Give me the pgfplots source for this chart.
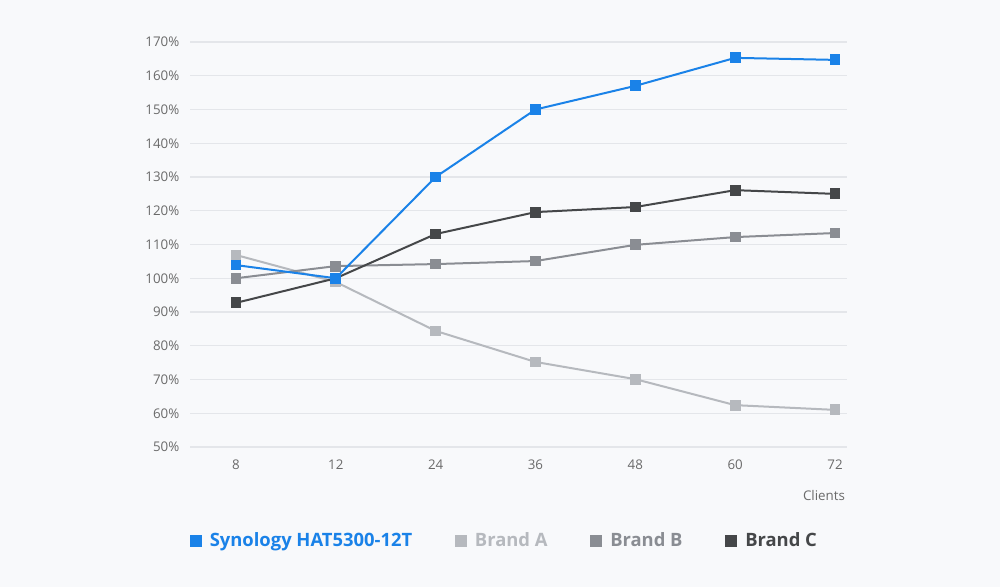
\documentclass[border=0pt]{standalone}
\usepackage{pgfplots}
\pgfplotsset{compat=1.18}
\usepackage{fontspec}
\setmainfont{Open Sans}
\definecolor{bg}{HTML}{F8F9FB}
\definecolor{gridc}{HTML}{E4E6EA}
\definecolor{tickc}{HTML}{6A6A6A}
\definecolor{cblue}{HTML}{1A82E8}
\definecolor{ca}{HTML}{B6B9BE}
\definecolor{cb}{HTML}{8A8D93}
\definecolor{cc}{HTML}{454749}
\begin{document}
\begin{tikzpicture}
\fill[bg] (0pt,0pt) rectangle (750pt,440.25pt);
\path[use as bounding box] (0pt,0pt) rectangle (750pt,440.25pt);
\begin{axis}[
  at={(142.5pt,105pt)}, anchor=south west,
  scale only axis, width=492.75pt, height=303.75pt,
  xmin=-0.46, xmax=6.12, ymin=50, ymax=170,
  axis line style={draw=none},
  major tick length=0pt,
  xtick={0,...,6}, xticklabels={8,12,24,36,48,60,72},
  ytick={50,60,...,170},
  yticklabels={50\%,60\%,70\%,80\%,90\%,100\%,110\%,120\%,130\%,140\%,150\%,160\%,170\%},
  ymajorgrids, grid style={gridc, line width=0.8pt},
  tick label style={font=\fontsize{10}{12}\selectfont, text=tickc},
  yticklabel style={xshift=-4.5pt},
  xticklabel style={yshift=-6pt},
  clip=false,
  legend columns=4,
  legend style={at={(0.479,-0.232)}, anchor=center, draw=none, fill=none,
    font=\fontsize{13.8}{16}\selectfont\bfseries,
    /tikz/every odd column/.append style={column sep=4pt},
    /tikz/every even column/.append style={column sep=30pt}},
  legend image code/.code={\node[fill, draw=none, minimum size=9pt, inner sep=0pt] at (0.3cm,0) {};},
  every axis plot/.append style={line width=1.5pt, mark=square*, mark size=3.3pt},
]
\addlegendimage{cblue, fill=cblue}
\addlegendentry{\textcolor{cblue}{Synology HAT5300-12T}}
\addlegendimage{ca, fill=ca}
\addlegendentry{\textcolor{ca}{Brand A}}
\addlegendimage{cb, fill=cb}
\addlegendentry{\textcolor{cb}{Brand B}}
\addlegendimage{cc, fill=cc}
\addlegendentry{\textcolor{cc}{Brand C}}
\addplot[forget plot, ca, mark options={fill=ca, draw=ca}] coordinates {(0,106.9) (1,98.9) (2,84.4) (3,75.2) (4,70.1) (5,62.4) (6,61)};
\addplot[forget plot, cb, mark options={fill=cb, draw=cb}] coordinates {(0,100) (1,103.6) (2,104.2) (3,105.1) (4,109.9) (5,112.2) (6,113.4)};
\addplot[forget plot, cc, mark options={fill=cc, draw=cc}] coordinates {(0,92.7) (1,100) (2,113.1) (3,119.6) (4,121.1) (5,126.1) (6,125)};
\addplot[forget plot, cblue, mark options={fill=cblue, draw=cblue}] coordinates {(0,103.9) (1,100) (2,130) (3,150) (4,157) (5,165.3) (6,164.7)};
\node[anchor=north east, font=\fontsize{10}{12}\selectfont, text=tickc] at (rel axis cs:1,0) [yshift=-29pt,xshift=2pt] {Clients};
\end{axis}
\end{tikzpicture}
\end{document}
